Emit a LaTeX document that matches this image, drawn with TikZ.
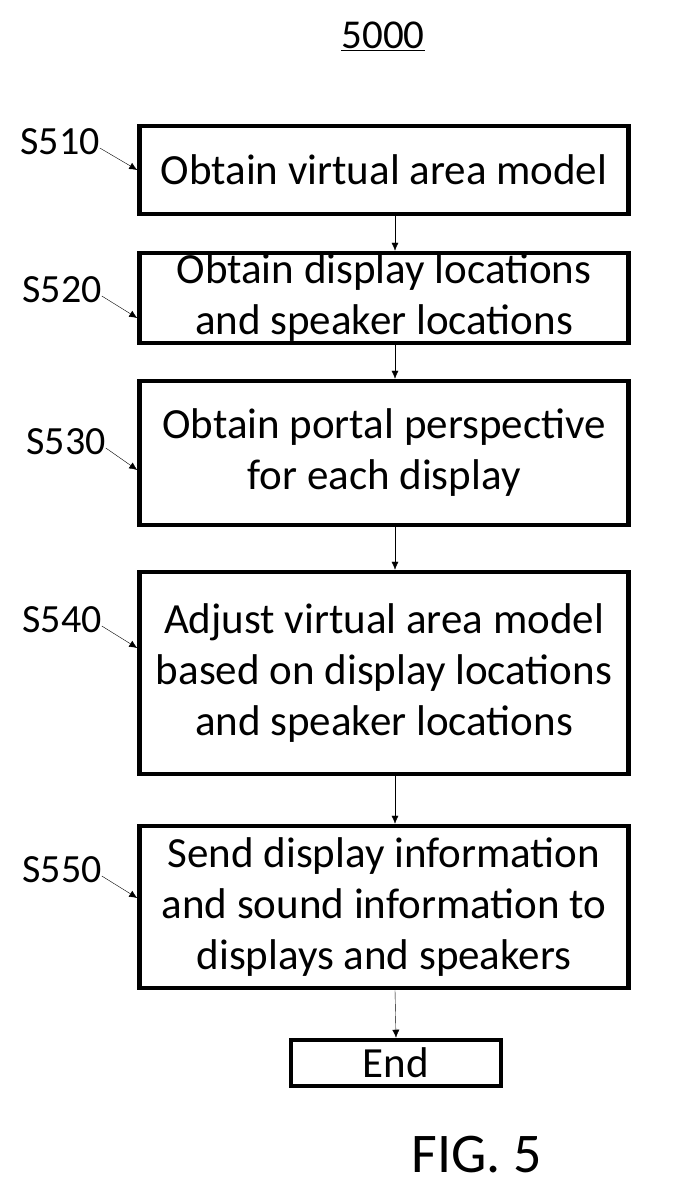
\documentclass[tikz,border=0pt]{standalone}
\usepackage{fontspec}
\setmainfont{Carlito}
\usetikzlibrary{arrows.meta}

\begin{document}
\begin{tikzpicture}[x=1pt,y=-1pt,
  stepbox/.style={draw,line width=4.5pt,minimum width=489pt,align=center,
    font=\fontsize{43}{51}\selectfont,inner sep=0pt},
  lbl/.style={font=\fontsize{40}{44}\selectfont,inner sep=0pt},
  flow/.style={-{Latex[length=8pt,width=7pt]},thin}]
\useasboundingbox (0,0) rectangle (676,1196);
\node[font=\fontsize{41}{44}\selectfont] (title) at (383,36) {\underline{5000}};
\node[stepbox,minimum height=88pt] (s1) at (384,170) {Obtain virtual area model};
\node[stepbox,minimum height=90pt] (s2) at (384,298) {Obtain display locations\\and speaker locations};
\node[stepbox,minimum height=144pt] (s3) at (384,453) {Obtain portal perspective\\for each display};
\node[stepbox,minimum height=202pt] (s4) at (384,673) {Adjust virtual area model\\based on display locations\\and speaker locations};
\node[stepbox,minimum height=162pt] (s5) at (384,907) {Send display information\\and sound information to\\displays and speakers};
\node[stepbox,minimum width=210pt,minimum height=46pt] (end) at (396,1063) {End};
\node[font=\fontsize{56}{60}\selectfont] (fig) at (477,1155) {FIG. 5};
% step labels
\node[lbl] (l1) at (60,142) {S510};
\node[lbl] (l2) at (62,290) {S520};
\node[lbl] (l3) at (66,442) {S530};
\node[lbl] (l4) at (62,620) {S540};
\node[lbl] (l5) at (62,870) {S550};
\foreach \i in {1,...,5}
  \draw[flow] ([yshift=-6pt]l\i.east) -- ([yshift=-28pt]l\i.east -| s\i.west);
% flow between steps
\draw[flow] ([xshift=11pt]s1.south) -- ([xshift=11pt]s2.north);
\draw[flow] ([xshift=11pt]s2.south) -- ([xshift=11pt]s3.north);
\draw[flow] ([xshift=11pt]s3.south) -- ([xshift=11pt]s4.north);
\draw[flow] ([xshift=11pt]s4.south) -- ([xshift=11pt]s5.north);
\draw[flow] ([xshift=11pt]s5.south) -- (end.north);
\end{tikzpicture}
\end{document}
